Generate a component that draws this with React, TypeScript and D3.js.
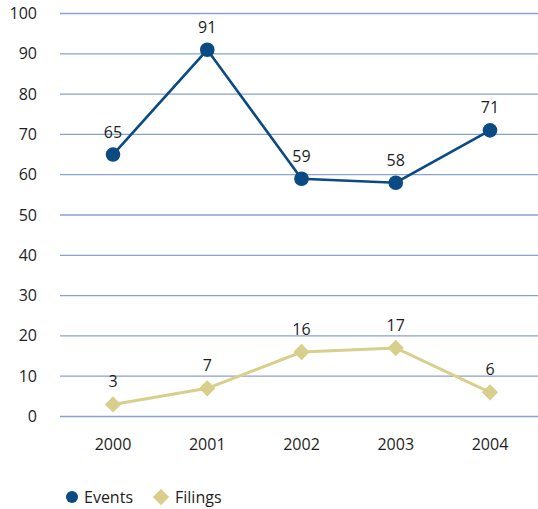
import * as d3 from 'd3'
import React, { useEffect, useRef } from 'react'

const years = ['2000', '2001', '2002', '2003', '2004']
const events = [65, 91, 59, 58, 71]
const filings = [3, 7, 16, 17, 6]
const yTicks = [0, 10, 20, 30, 40, 50, 60, 70, 80, 90, 100]

const width = 538
const height = 509
const font = '"Open Sans", "Noto Sans", sans-serif'
const fontSize = 16
const blue = '#0b4a82'
const khaki = '#d8cf8c'
const ink = '#1e1e1e'

const App = () => {
  const ref = useRef<SVGSVGElement>(null)

  useEffect(() => {
    const svg = d3.select(ref.current)
    svg.selectAll('*').remove()

    const x = d3.scalePoint<string>().domain(years).range([113, 490])
    const y = d3.scaleLinear().domain([0, 100]).range([416.5, 13.5])

    // gridlines
    svg
      .append('g')
      .selectAll('line')
      .data(yTicks)
      .join('line')
      .attr('x1', 60)
      .attr('x2', width)
      .attr('y1', (d) => y(d))
      .attr('y2', (d) => y(d))
      .attr('stroke', '#8aa2cf')
      .attr('stroke-width', 1.3)

    // y labels
    svg
      .append('g')
      .selectAll('text')
      .data(yTicks)
      .join('text')
      .attr('x', 37)
      .attr('y', (d) => y(d) + 5.5)
      .attr('text-anchor', 'end')
      .attr('font-family', font)
      .attr('font-size', fontSize)
      .attr('fill', ink)
      .text((d) => d)

    // x labels
    svg
      .append('g')
      .selectAll('text')
      .data(years)
      .join('text')
      .attr('x', (d) => x(d)!)
      .attr('y', 450)
      .attr('text-anchor', 'middle')
      .attr('font-family', font)
      .attr('font-size', fontSize)
      .attr('fill', ink)
      .text((d) => d)

    const line = d3
      .line<number>()
      .x((_, i) => x(years[i])!)
      .y((d) => y(d))

    // filings
    svg
      .append('path')
      .attr('d', line(filings))
      .attr('fill', 'none')
      .attr('stroke', khaki)
      .attr('stroke-width', 3)
    const diamond = d3.symbol().type(d3.symbolDiamond2).size(170)
    svg
      .append('g')
      .selectAll('path')
      .data(filings)
      .join('path')
      .attr('d', diamond)
      .attr('transform', (d, i) => `translate(${x(years[i])},${y(d)})`)
      .attr('fill', khaki)

    // events
    svg
      .append('path')
      .attr('d', line(events))
      .attr('fill', 'none')
      .attr('stroke', blue)
      .attr('stroke-width', 2.6)
    svg
      .append('g')
      .selectAll('circle')
      .data(events)
      .join('circle')
      .attr('cx', (_, i) => x(years[i])!)
      .attr('cy', (d) => y(d))
      .attr('r', 7.3)
      .attr('fill', blue)

    // value labels
    const labels = [...events, ...filings]
    svg
      .append('g')
      .selectAll('text')
      .data(labels)
      .join('text')
      .attr('x', (_, i) => x(years[i % 5])!)
      .attr('y', (d) => y(d) - 17)
      .attr('text-anchor', 'middle')
      .attr('font-family', font)
      .attr('font-size', fontSize)
      .attr('fill', ink)
      .text((d) => d)

    // legend
    const legend = svg.append('g').attr('transform', 'translate(0,497)')
    legend.append('circle').attr('cx', 72).attr('cy', 0).attr('r', 6).attr('fill', blue)
    legend
      .append('text')
      .attr('x', 84)
      .attr('y', 5.5)
      .attr('font-family', font)
      .attr('font-size', fontSize)
      .attr('fill', ink)
      .text('Events')
    legend
      .append('path')
      .attr('d', diamond)
      .attr('transform', 'translate(161,0)')
      .attr('fill', khaki)
    legend
      .append('text')
      .attr('x', 175)
      .attr('y', 5.5)
      .attr('font-family', font)
      .attr('font-size', fontSize)
      .attr('fill', ink)
      .text('Filings')
  }, [])

  return (
    <svg
      ref={ref}
      width={width}
      height={height}
      style={{ position: 'absolute', left: 0, top: 0, background: '#fff' }}
    />
  )
}

export default App
